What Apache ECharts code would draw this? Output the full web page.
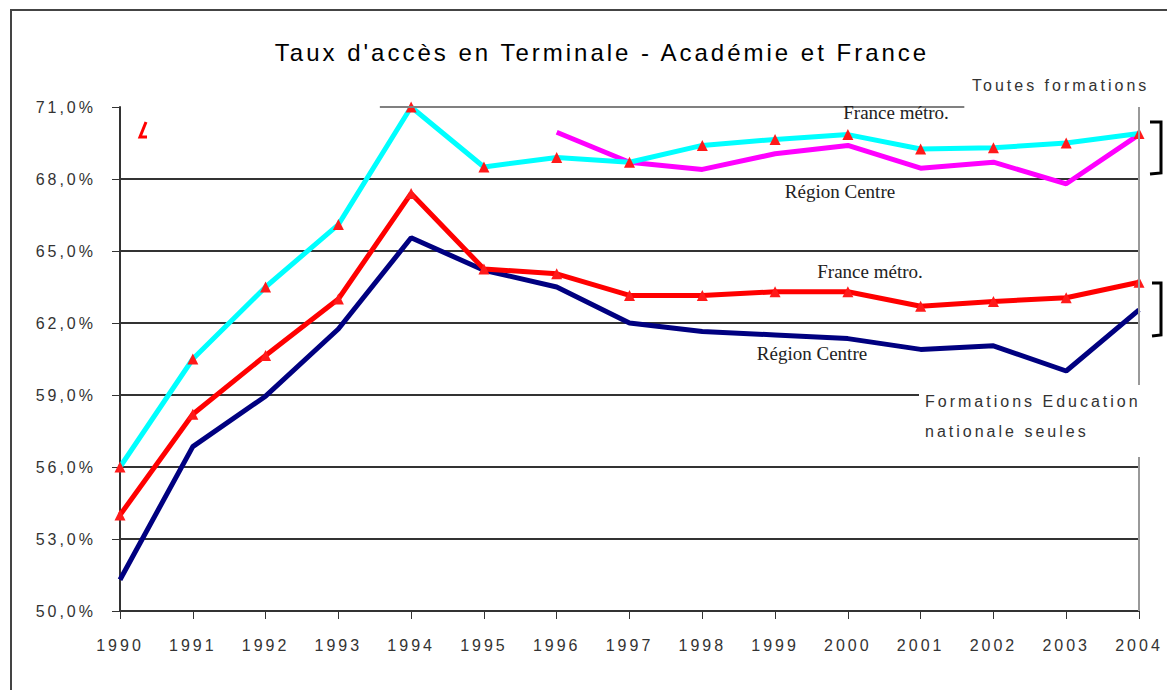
<!DOCTYPE html>
<html>
<head>
<meta charset="utf-8">
<title>Taux d'accès en Terminale - Académie et France</title>
<script src="https://cdn.jsdelivr.net/npm/echarts@6/dist/echarts.min.js"></script>
<style>
  html, body { margin: 0; padding: 0; background: #fff; }
  #main { width: 1167px; height: 690px; }
  /* spaced lettering like the old Excel export, except the serif captions */
  #main svg text { letter-spacing: 3px; }
  #main svg text[style*="Serif"] { letter-spacing: 0; }
</style>
</head>
<body>
<div id="main"></div>
<script>
// années
var years = [1990, 1991, 1992, 1993, 1994, 1995, 1996, 1997, 1998, 1999, 2000, 2001, 2002, 2003, 2004];
// graduations de l'axe des %
var tickValues = [50, 53, 56, 59, 62, 65, 68, 71];

// toutes formations
var franceToutes = [56.0, 60.5, 63.5, 66.1, 71.0, 68.5, 68.9, 68.7, 69.4, 69.65, 69.85, 69.25, 69.3, 69.5, 69.9];
var centreToutes = [null, null, null, null, null, null, 69.95, 68.7, 68.4, 69.05, 69.4, 68.45, 68.7, 67.8, 69.85];
// formations Education nationale seules
var franceEN = [54.0, 58.2, 60.65, 63.0, 67.4, 64.25, 64.05, 63.15, 63.15, 63.3, 63.3, 62.7, 62.9, 63.05, 63.7];
var centreEN = [51.3, 56.85, 58.95, 61.75, 65.55, 64.2, 63.5, 62.0, 61.65, 61.5, 61.35, 60.9, 61.05, 60.0, 62.55];

function pairs(values) {
  return years.map(function (y, i) { return [y, values[i]]; });
}

var sans = "Liberation Sans";
var serif = "Liberation Serif";

var chart = echarts.init(document.getElementById("main"), null, { renderer: "svg" });

var option = {
  animation: false,
  backgroundColor: "#fff",
  title: {
    text: "Taux d'accès en Terminale - Académie et France",
    left: 597,
    top: 35,
    textAlign: "center",
    textStyle: { fontFamily: sans, fontSize: 24, fontWeight: "normal", color: "#000" }
  },
  grid: { left: 120, right: 28, top: 107, bottom: 79 },
  xAxis: {
    type: "value",
    min: 1990,
    max: 2004,
    interval: 1,
    axisLine: { lineStyle: { color: "#333", width: 2 } },
    axisTick: { inside: false, length: 8, lineStyle: { color: "#333" } },
    axisLabel: {
      margin: 26,
      fontFamily: sans,
      fontSize: 16,
      color: "#333",
      formatter: function (v) { return String(v); }
    },
    splitLine: { show: false }
  },
  yAxis: {
    type: "value",
    min: 50,
    max: 71,
    axisLine: { show: true, lineStyle: { color: "#333", width: 2 } },
    axisTick: { show: true, inside: false, length: 8, customValues: tickValues, lineStyle: { color: "#333" } },
    axisLabel: {
      margin: 24,
      fontFamily: sans,
      fontSize: 16,
      color: "#333",
      customValues: tickValues,
      formatter: function (v) { return v.toFixed(1).replace(".", ",") + "%"; }
    },
    splitLine: {
      show: true,
      lineStyle: {
        color: ["#333", "#333", "#333", "#333", "#333", "#333", "#333", "transparent"],
        width: 2
      }
    }
  },
  series: [
    {
      name: "Région Centre - Education nationale",
      type: "line",
      data: pairs(centreEN),
      symbol: "none",
      lineStyle: { color: "#000080", width: 5 },
      z: 2
    },
    {
      name: "France métro. - Education nationale",
      type: "line",
      data: pairs(franceEN),
      symbol: "triangle",
      symbolSize: 11,
      itemStyle: { color: "#ff1a1a" },
      lineStyle: { color: "#ff0000", width: 5 },
      z: 3
    },
    {
      name: "Région Centre - toutes formations",
      type: "line",
      data: pairs(centreToutes),
      symbol: "none",
      lineStyle: { color: "#ff00ff", width: 5 },
      z: 2
    },
    {
      name: "France métro. - toutes formations",
      type: "line",
      data: pairs(franceToutes),
      symbol: "triangle",
      symbolSize: 11,
      itemStyle: { color: "#ff1a1a" },
      lineStyle: { color: "#00ffff", width: 5 },
      z: 3,
      markLine: {
        silent: true,
        symbol: "none",
        label: { show: false },
        data: [
          [
            { coord: [1993.57, 71], lineStyle: { color: "#808080", width: 2, type: "solid" } },
            { coord: [2001.6, 71] }
          ],
          { xAxis: 2004, lineStyle: { color: "#999", width: 2, type: "solid" } }
        ]
      }
    }
  ],
  graphic: [
    // cadre
    {
      type: "rect",
      z: 100,
      shape: { x: 11, y: 10, width: 1200, height: 720 },
      style: { fill: null, stroke: "#444", lineWidth: 2 }
    },
    // reste de la légende
    {
      type: "polyline",
      z: 100,
      shape: { points: [[146, 122], [140, 137], [147, 137]] },
      style: { stroke: "#ff0000", lineWidth: 3, fill: null }
    },
    {
      type: "text", z: 100, x: 896, y: 112,
      style: { text: "France métro.", font: "19px " + serif, fill: "#222", align: "center", verticalAlign: "middle" }
    },
    {
      type: "text", z: 100, x: 840, y: 191,
      style: { text: "Région Centre", font: "19px " + serif, fill: "#222", align: "center", verticalAlign: "middle" }
    },
    {
      type: "text", z: 100, x: 870, y: 271,
      style: { text: "France métro.", font: "19px " + serif, fill: "#222", align: "center", verticalAlign: "middle" }
    },
    {
      type: "text", z: 100, x: 812, y: 353,
      style: { text: "Région Centre", font: "19px " + serif, fill: "#222", align: "center", verticalAlign: "middle" }
    },
    {
      type: "text", z: 100, x: 972, y: 85,
      style: { text: "Toutes formations", font: "16px " + sans, fill: "#333", align: "left", verticalAlign: "middle" }
    },
    {
      type: "rect", z: 99,
      shape: { x: 919, y: 385, width: 248, height: 72 },
      style: { fill: "#fff", stroke: null }
    },
    {
      type: "text", z: 100, x: 925, y: 401,
      style: { text: "Formations Education", font: "16px " + sans, fill: "#333", align: "left", verticalAlign: "middle" }
    },
    {
      type: "text", z: 100, x: 925, y: 431,
      style: { text: "nationale seules", font: "16px " + sans, fill: "#333", align: "left", verticalAlign: "middle" }
    },
    // accolades
    {
      type: "polyline", z: 100,
      shape: { points: [[1150, 122], [1161, 122], [1161, 173], [1150, 174]] },
      style: { stroke: "#000", lineWidth: 3, fill: null }
    },
    {
      type: "polyline", z: 100,
      shape: { points: [[1152, 283], [1161, 283], [1161, 335], [1152, 336]] },
      style: { stroke: "#000", lineWidth: 3, fill: null }
    }
  ]
};

chart.setOption(option);
</script>
</body>
</html>
